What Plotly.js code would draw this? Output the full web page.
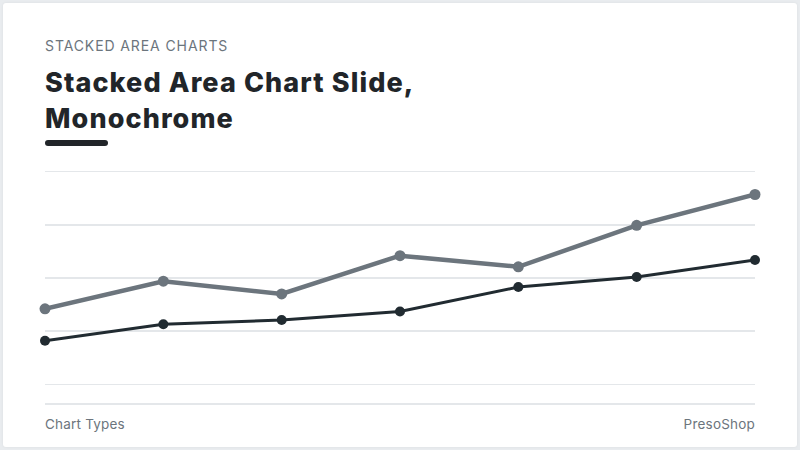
<!DOCTYPE html>
<html>
<head>
<meta charset="utf-8">
<script src="https://cdn.plot.ly/plotly-3.0.1.min.js"></script>
<style>
  html, body { margin: 0; padding: 0; width: 800px; height: 450px; background: #e9ecef; overflow: hidden; }
  .card { position: absolute; left: 3px; top: 3px; width: 794px; height: 444px; background: #fff; border-radius: 3px; box-shadow: 0 0 3px rgba(0,0,0,0.06); }
  .kicker { position: absolute; left: 45px; top: 37px; font: 400 14px Inter, sans-serif; letter-spacing: 0.9px; color: #6c757d; }
  .title { position: absolute; left: 45px; top: 65px; font: 800 27px/36px Inter, sans-serif; color: #212529; letter-spacing: 1.1px; }
  .accent { position: absolute; left: 45px; top: 140px; width: 63px; height: 6px; border-radius: 3px; background: #212529; }
  .rule { position: absolute; left: 45px; top: 403px; width: 710px; height: 2px; background: #e4e7ea; }
  .foot { position: absolute; top: 416px; font: 400 13.5px Inter, sans-serif; letter-spacing: 0.2px; color: #6c757d; }
  #chart { position: absolute; left: 0; top: 0; width: 800px; height: 450px; }
</style>
</head>
<body>
<div class="card"></div>
<div class="kicker">STACKED AREA CHARTS</div>
<div class="title">Stacked Area Chart Slide,<br>Monochrome</div>
<div class="accent"></div>
<div class="rule"></div>
<div class="foot" style="left:45px">Chart Types</div>
<div class="foot" style="right:45px">PresoShop</div>
<div id="chart"></div>
<script>
const dark = "#212b31",
  gray = "#6c757d",
  grid = "#e4e7ea";

const periods = ["P1", "P2", "P3", "P4", "P5", "P6", "P7"];
const baseValues = [8.2, 11.3, 12.1, 13.7, 18.3, 20.2, 23.4];
const topValues = [6.0, 8.1, 4.9, 10.5, 3.8, 9.7, 12.3];

Plotly.newPlot(
  "chart",
  [
    {
      x: periods,
      y: baseValues,
      stackgroup: "one",
      fill: "none",
      mode: "lines+markers",
      line: { color: dark, width: 3 },
      marker: { color: dark, size: 10 },
      cliponaxis: false,
    },
    {
      x: periods,
      y: topValues,
      stackgroup: "one",
      fill: "none",
      mode: "lines+markers",
      line: { color: gray, width: 4.5 },
      marker: { color: gray, size: 11 },
      cliponaxis: false,
    },
  ],
  {
    width: 800,
    height: 450,
    // padded range so the 0 and 40 grid lines are not dropped at the edges
    margin: { l: 45, r: 45, t: 161.4, b: 54.9 },
    paper_bgcolor: "rgba(0,0,0,0)",
    plot_bgcolor: "rgba(0,0,0,0)",
    showlegend: false,
    xaxis: { showgrid: false, showticklabels: false, zeroline: false, range: [0, 6], fixedrange: true },
    yaxis: {
      range: [-2, 42],
      tickvals: [0, 10, 20, 30, 40],
      gridcolor: grid,
      gridwidth: 1.5,
      showticklabels: false,
      zeroline: false,
      fixedrange: true,
    },
  },
  { displayModeBar: false, staticPlot: true },
);
</script>
</body>
</html>
